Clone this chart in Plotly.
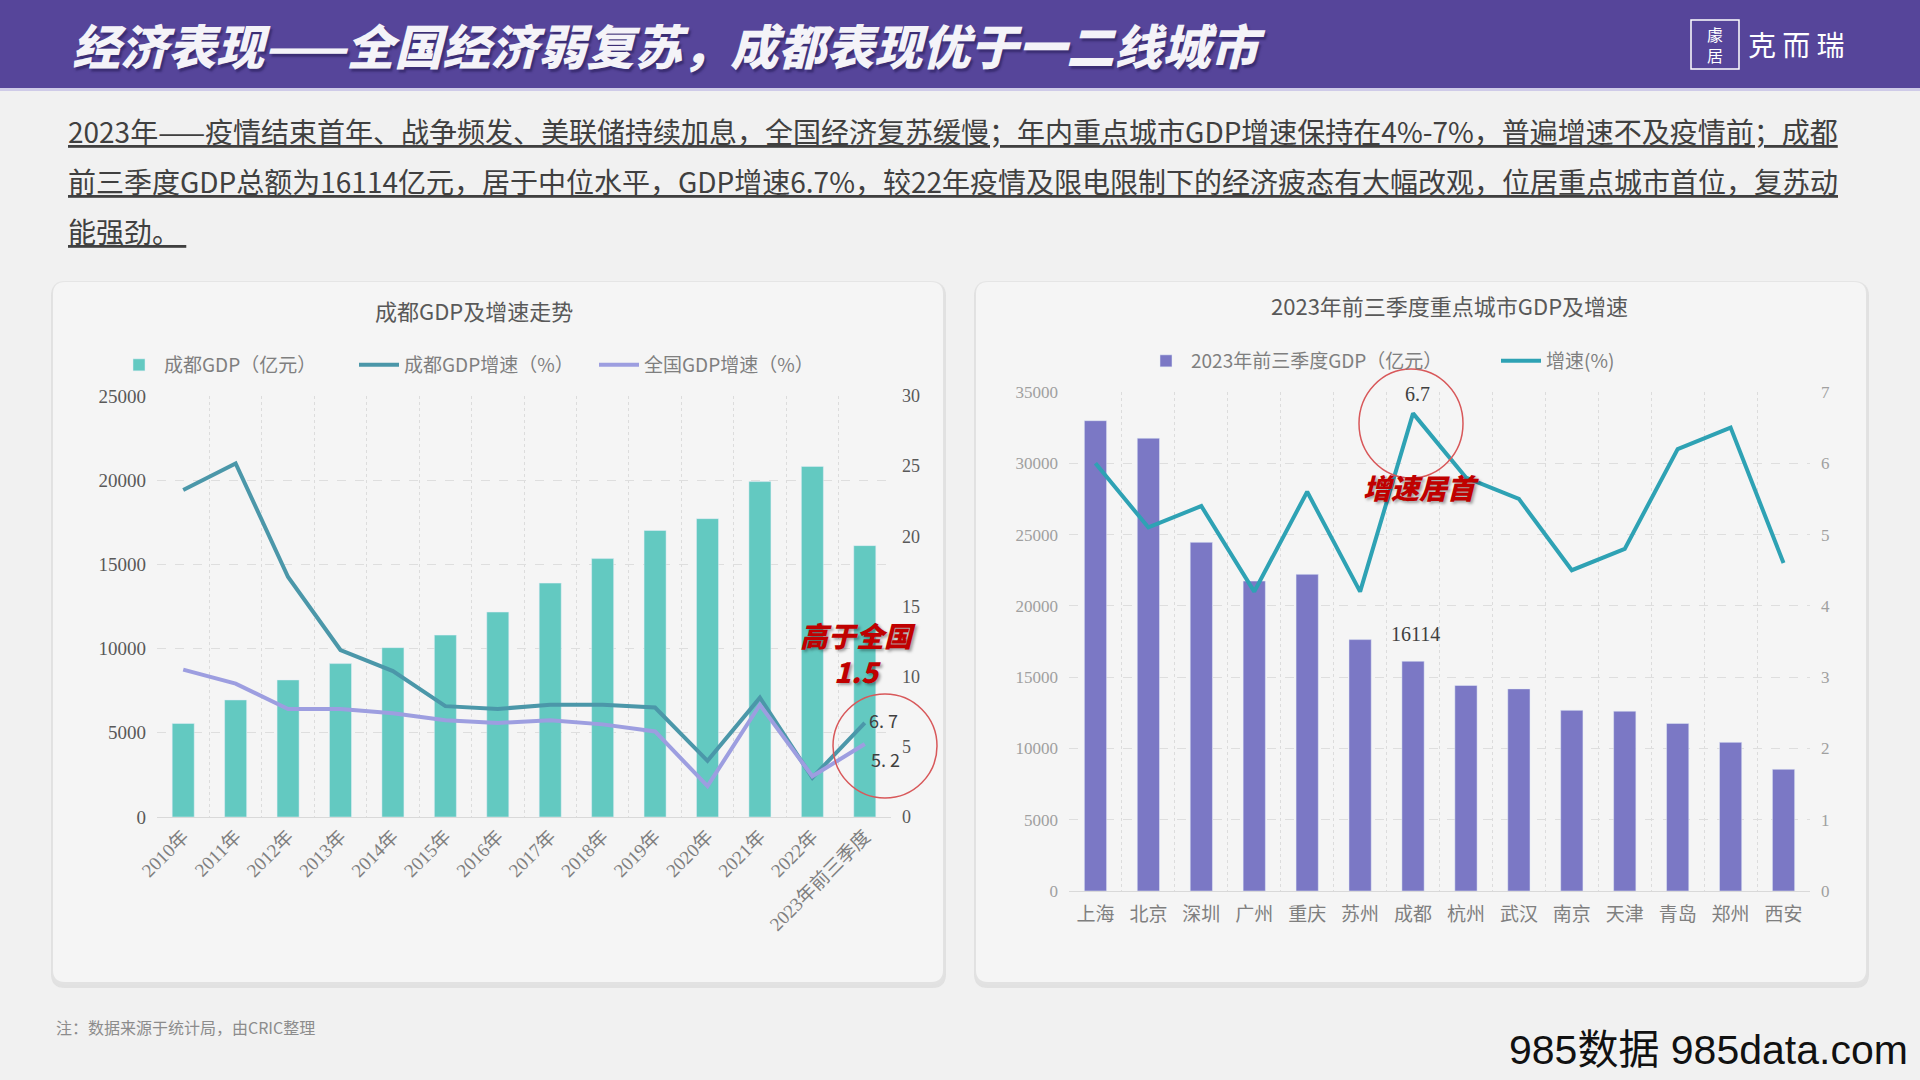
import plotly.graph_objects as go

# ---------------- data ----------------
years = ["2010年", "2011年", "2012年", "2013年", "2014年", "2015年", "2016年",
         "2017年", "2018年", "2019年", "2020年", "2021年", "2022年", "2023年前三季度"]
cd_gdp = [5551, 6950, 8139, 9109, 10057, 10801, 12170, 13889, 15343, 17013, 17717, 19917, 20818, 16114]
cd_growth = [23.3, 25.2, 17.1, 11.9, 10.4, 7.9, 7.7, 8.0, 8.0, 7.8, 4.0, 8.5, 2.8, 6.7]
cn_growth = [10.5, 9.5, 7.7, 7.7, 7.4, 6.9, 6.7, 6.9, 6.6, 6.1, 2.2, 8.0, 2.9, 5.2]

cities = ["上海", "北京", "深圳", "广州", "重庆", "苏州", "成都", "杭州", "武汉", "南京", "天津", "青岛", "郑州", "西安"]
city_gdp = [32987, 31759, 24456, 21738, 22211, 17633, 16114, 14413, 14177, 12671, 12612, 11755, 10426, 8536]
city_growth = [6.0, 5.1, 5.4, 4.2, 5.6, 4.2, 6.7, 5.8, 5.5, 4.5, 4.8, 6.2, 6.5, 4.6]

left_ticks_gdp = [0, 5000, 10000, 15000, 20000, 25000]
left_ticks_rate = [0, 5, 10, 15, 20, 25, 30]
right_ticks_gdp = [0, 5000, 10000, 15000, 20000, 25000, 30000, 35000]
right_ticks_rate = [0, 1, 2, 3, 4, 5, 6, 7]

W, H = 1920, 1080
def px(x):
    return x / W
def py(y):
    return 1 - y / H

CJK = "Noto Sans CJK SC"
SERIF = "Liberation Serif, Noto Sans CJK SC"

fig = go.Figure()

# ---------------- traces ----------------
fig.add_bar(x=years, y=cd_gdp, name="成都GDP（亿元）", marker_color="#63c9c1", width=0.42,
            xaxis="x", yaxis="y", legend="legend")
fig.add_scatter(x=years, y=cd_growth, name="成都GDP增速（%）", mode="lines",
                line=dict(color="#4b97a9", width=4), xaxis="x", yaxis="y2", legend="legend")
fig.add_scatter(x=years, y=cn_growth, name="全国GDP增速（%）", mode="lines",
                line=dict(color="#9d9ee0", width=4), xaxis="x", yaxis="y2", legend="legend")

fig.add_bar(x=cities, y=city_gdp, name="2023年前三季度GDP（亿元）", marker_color="#7b78c5", width=0.42,
            xaxis="x2", yaxis="y3", legend="legend2")
fig.add_scatter(x=cities, y=city_growth, name="增速(%)", mode="lines",
                line=dict(color="#2ea2b4", width=4), xaxis="x2", yaxis="y4", legend="legend2")

# ---------------- shapes ----------------
shapes = []

def rounded_rect(x0, y0, x1, y1, r, fill, opacity=1.0):
    p = (f"M {px(x0+r)} {py(y0)} L {px(x1-r)} {py(y0)} Q {px(x1)} {py(y0)} {px(x1)} {py(y0+r)} "
         f"L {px(x1)} {py(y1-r)} Q {px(x1)} {py(y1)} {px(x1-r)} {py(y1)} "
         f"L {px(x0+r)} {py(y1)} Q {px(x0)} {py(y1)} {px(x0)} {py(y1-r)} "
         f"L {px(x0)} {py(y0+r)} Q {px(x0)} {py(y0)} {px(x0+r)} {py(y0)} Z")
    return dict(type="path", path=p, xref="paper", yref="paper", fillcolor=fill,
                line=dict(width=0), layer="below", opacity=opacity)

# header band
shapes.append(dict(type="rect", xref="paper", yref="paper", x0=0, x1=1, y0=py(88), y1=1,
                   fillcolor="#56459a", line=dict(width=0), layer="below"))
shapes.append(dict(type="rect", xref="paper", yref="paper", x0=0, x1=1, y0=py(91), y1=py(88),
                   fillcolor="#cfcbe8", line=dict(width=0), layer="below"))
# cards with soft shadows
for (x0, x1) in [(53, 943), (976, 1866)]:
    shapes.append(rounded_rect(x0 - 2, 282, x1 + 3, 988, 14, "#d4d4d4", 0.55))
    shapes.append(rounded_rect(x0 - 1, 281, x1 + 1, 985, 13, "#e2e2e2", 0.8))
    shapes.append(rounded_rect(x0, 282, x1, 982, 12, "#f5f5f5"))
# red circles
shapes.append(dict(type="circle", xref="paper", yref="paper", x0=px(833), x1=px(937),
                   y0=py(798), y1=py(694), line=dict(color="#d8585a", width=1.5)))
shapes.append(dict(type="circle", xref="paper", yref="paper", x0=px(1359), x1=px(1463),
                   y0=py(478), y1=py(369), line=dict(color="#d8585a", width=1.5)))
# logo box
shapes.append(dict(type="rect", xref="paper", yref="paper", x0=px(1691), x1=px(1739),
                   y0=py(69), y1=py(20), line=dict(color="#ffffff", width=1.5)))

# ---------------- annotations ----------------
ann = []
def text(x, y, s, size, color, family=CJK, xanchor="left", yanchor="middle", **font_extra):
    f = dict(size=size, color=color, family=family)
    f.update(font_extra)
    ann.append(dict(x=px(x), y=py(y), xref="paper", yref="paper", text=s, showarrow=False,
                    xanchor=xanchor, yanchor=yanchor, font=f))

# title + logo
text(70, 44, "经济表现——全国经济弱复苏，成都表现优于一二线城市", 48, "#f4f3f8",
     weight=900, style="italic", shadow="2px 3px 2px rgba(40,30,90,0.6)")
text(1715, 45, "豦<br>居", 16, "#ffffff", xanchor="center")
text(1746, 44, "克 而 瑞", 28, "#ffffff")

# paragraph
para = [
    "2023年——疫情结束首年、战争频发、美联储持续加息，全国经济复苏缓慢；年内重点城市GDP增速保持在4%-7%，普遍增速不及疫情前；成都",
    "前三季度GDP总额为16114亿元，居于中位水平，GDP增速6.7%，较22年疫情及限电限制下的经济疲态有大幅改观，位居重点城市首位，复苏动",
    "能强劲。 ",
]
for i, line in enumerate(para):
    text(66, 131 + 50 * i, line, 28, "#404040", family=CJK, lineposition="under")

# chart titles
text(474, 310, "成都GDP及增速走势", 22, "#595959", xanchor="center")
text(1449, 305, "2023年前三季度重点城市GDP及增速", 22, "#595959", xanchor="center")

# red callouts
text(858, 653, "高于全国<br>1.5", 28, "#c00000", xanchor="center", weight=900, style="italic",
     shadow="2px 2px 3px rgba(0,0,0,0.35)")
text(1421, 487, "增速居首", 28, "#c00000", xanchor="center", weight=900, style="italic",
     shadow="2px 2px 3px rgba(0,0,0,0.35)")

# data labels
ann.append(dict(x=years[-1], y=cd_growth[-1], xref="x", yref="y2", text=f"{cd_growth[-1]:.1f}".replace(".", ". "),
                showarrow=False, xanchor="left", yanchor="middle", xshift=2, yshift=3,
                font=dict(size=18, color="#404040", family=CJK)))
ann.append(dict(x=years[-1], y=cn_growth[-1], xref="x", yref="y2", text=f"{cn_growth[-1]:.1f}".replace(".", ". "),
                showarrow=False, xanchor="left", yanchor="middle", xshift=4, yshift=-15,
                font=dict(size=18, color="#404040", family=CJK)))
ci = cities.index("成都")
ann.append(dict(x=cities[ci], y=city_growth[ci], xref="x2", yref="y4", text=f"{city_growth[ci]:.1f}",
                showarrow=False, xanchor="center", yanchor="bottom", xshift=4, yshift=6,
                font=dict(size=20, color="#404040", family=SERIF)))
ann.append(dict(x=cities[ci], y=city_gdp[ci], xref="x2", yref="y3", text=f"{city_gdp[ci]}",
                showarrow=False, xanchor="center", yanchor="bottom", xshift=2, yshift=14,
                font=dict(size=20, color="#404040", family=SERIF)))

# footer + watermark
text(54, 1027, "注：数据来源于统计局，由CRIC整理", 16, "#8c8c8c")
text(1910, 1050, "985数据 985data.com", 41, "#111111", family="Liberation Sans, Noto Sans CJK SC",
     xanchor="right")

# ---------------- axes ----------------
grid_h = dict(showgrid=True, gridcolor="#dedede", griddash="dash", gridwidth=1, zeroline=False)
axis_common = dict(showline=False, ticks="", fixedrange=True, tickformat="d", automargin=False)

fig.update_layout(
    width=W, height=H,
    margin=dict(l=0, r=0, t=0, b=0, pad=0, autoexpand=False),
    paper_bgcolor="#f1f1f1",
    plot_bgcolor="rgba(0,0,0,0)",
    shapes=shapes,
    annotations=ann,
    xaxis=dict(domain=[px(157), px(891)], anchor="y", type="category", tickangle=-45,
               range=[-0.5, len(years) - 0.5], autorange=False,
               tickson="boundaries", showgrid=True, gridcolor="#dcdcdc", griddash="dot",
               showline=True, linecolor="#d9d9d9", ticks="", automargin=False,
               tickfont=dict(size=19, color="#7f7f7f", family=SERIF)),
    yaxis=dict(domain=[py(817), py(396)], anchor="x", range=[0, 25000], tickvals=left_ticks_gdp,
               tickfont=dict(size=19, color="#595959", family=SERIF), ticklabelstandoff=10,
               **grid_h, **axis_common),
    yaxis2=dict(overlaying="y", side="right", anchor="x", range=[0, 30], tickvals=left_ticks_rate,
                showgrid=False, zeroline=False, ticks="", automargin=False,
                tickfont=dict(size=18, color="#595959", family=SERIF), ticklabelstandoff=10),
    xaxis2=dict(domain=[px(1069), px(1810)], anchor="y3", type="category",
                range=[-0.5, len(cities) - 0.5], autorange=False,
                tickson="boundaries", showgrid=True, gridcolor="#dcdcdc", griddash="dot",
                showline=True, linecolor="#d9d9d9", ticks="", ticklabelstandoff=6, automargin=False,
                tickfont=dict(size=19, color="#7f7f7f", family=CJK)),
    yaxis3=dict(domain=[py(891), py(392)], anchor="x2", range=[0, 35000], tickvals=right_ticks_gdp,
                tickfont=dict(size=17, color="#a0a0a0", family=SERIF), ticklabelstandoff=10,
                **grid_h, **axis_common),
    yaxis4=dict(overlaying="y3", side="right", anchor="x2", range=[0, 7], tickvals=right_ticks_rate,
                showgrid=False, zeroline=False, ticks="", automargin=False,
                tickfont=dict(size=17, color="#a0a0a0", family=SERIF), ticklabelstandoff=10),
    legend=dict(x=px(114), y=py(365), xanchor="left", yanchor="middle", orientation="h",
                bgcolor="rgba(0,0,0,0)", font=dict(size=19, color="#7f7f7f", family=CJK),
                itemwidth=40, entrywidth=185, traceorder="normal"),
    legend2=dict(x=px(1141), y=py(361), xanchor="left", yanchor="middle", orientation="h",
                 bgcolor="rgba(0,0,0,0)", font=dict(size=19, color="#7f7f7f", family=CJK),
                 itemwidth=40, entrywidth=300, traceorder="normal"),
)

post = ("var s=document.documentElement.style;s.margin='0';s.padding='0';s.overflow='hidden';"
        "var b=document.body.style;b.margin='0';b.padding='0';b.overflow='hidden';"
        "window.scrollTo(0,0);")
fig.write_html("out.html", post_script=post)
